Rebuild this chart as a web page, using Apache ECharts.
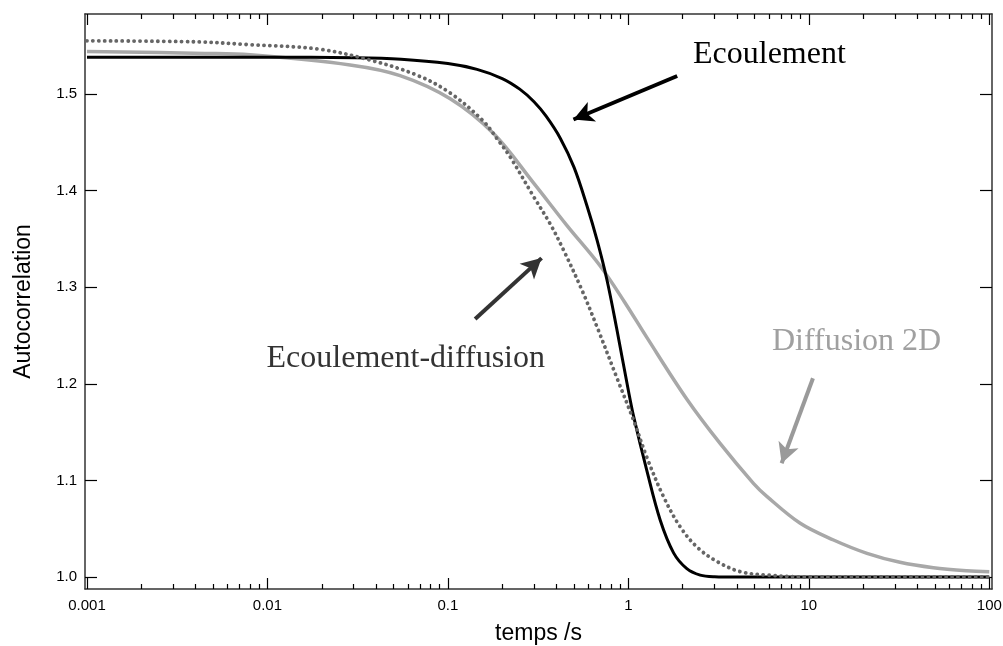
<!DOCTYPE html>
<html><head><meta charset="utf-8">
<script src="https://cdn.jsdelivr.net/npm/echarts@6/dist/echarts.min.js"></script>
<style>html,body{margin:0;padding:0;background:#fff}#chart{width:1003px;height:646px}</style>
</head><body><div id="chart"></div>
<script>
// ---- axis ticks ----
const xTickValues = [0.001, 0.01, 0.1, 1, 10, 100];
const xTickLabels = ['0.001', '0.01', '0.1', '1', '10', '100'];
const xMinorMultipliers = [2, 3, 4, 5, 6, 7, 8, 9];
const yTickValues = [1.0, 1.1, 1.2, 1.3, 1.4, 1.5];
const yTickLabels = ['1.0', '1.1', '1.2', '1.3', '1.4', '1.5'];

// ---- series: Ecoulement (black) ----
const ecoulementT = [0.001, 0.01, 0.03, 0.055, 0.1, 0.145, 0.2, 0.25, 0.3, 0.35, 0.42, 0.5, 0.59, 0.67, 0.76, 0.86, 1.0, 1.07, 1.27, 1.5, 1.78, 2.1, 2.5, 3.0, 4, 10, 100];
const ecoulementG = [1.538, 1.538, 1.5375, 1.536, 1.5315, 1.5255, 1.516, 1.505, 1.492, 1.477, 1.454, 1.424, 1.384, 1.349, 1.308, 1.258, 1.193, 1.166, 1.109, 1.059, 1.025, 1.009, 1.002, 1.0003, 1.0, 1.0, 1.0];

// ---- series: Ecoulement-diffusion (dotted) ----
const ecoDiffT = [0.001, 0.004, 0.008, 0.019, 0.0355, 0.067, 0.103, 0.157, 0.19, 0.221, 0.298, 0.37, 0.437, 0.55, 0.67, 0.86, 1.067, 1.265, 1.567, 1.936, 2.4, 3.1, 4.17, 5.85, 10, 100];
const ecoDiffG = [1.555, 1.554, 1.551, 1.5466, 1.536, 1.5197, 1.501, 1.472, 1.452, 1.435, 1.394, 1.365, 1.3385, 1.298, 1.259, 1.207, 1.1625, 1.124, 1.083, 1.052, 1.031, 1.016, 1.0055, 1.002, 1.0, 1.0];

// ---- series: Diffusion 2D (light gray) ----
const diff2DT = [0.001, 0.0045, 0.008, 0.0287, 0.0543, 0.103, 0.179, 0.298, 0.456, 0.698, 0.95, 1.265, 2.11, 3.23, 4.93, 5.85, 8.96, 13.7, 21, 32, 49, 75, 100];
const diff2DG = [1.544, 1.542, 1.5405, 1.530, 1.519, 1.495, 1.459, 1.408, 1.364, 1.322, 1.285, 1.248, 1.184, 1.138, 1.097, 1.0835, 1.0556, 1.0383, 1.0245, 1.0152, 1.0096, 1.0065, 1.0055];

// ---- annotation arrows (data coords: [time, G]) ----
const arrowEcoulement = [[1.864, 1.5186], [0.4963, 1.4736]];
const arrowEcoDiff = [[0.1415, 1.2671], [0.3303, 1.3301]];
const arrowDiff2D = [[10.54, 1.2057], [7.068, 1.1177]];

const xMinorValues = [];
xTickValues.slice(0, -1).forEach(d => xMinorMultipliers.forEach(m => xMinorValues.push(+(d * m).toPrecision(3))));

function pairs(ts, gs) { return ts.map((t, i) => [t, gs[i]]); }

const X_MIN = 0.000975, X_MAX = 103.5;
const Y_MIN = 0.98758, Y_MAX = 1.5828;
const SANS = '"Liberation Sans", Arial, sans-serif';
const SERIF = '"Liberation Serif", "Times New Roman", serif';
const AXIS_COLOR = '#333';

function xAxisDef(position, major, withLabels, withLine) {
  return {
    type: 'log', logBase: 10, min: X_MIN, max: X_MAX, position: position,
    splitLine: { show: false }, minorTick: { show: false },
    axisLine: { show: withLine, onZero: false, lineStyle: { color: AXIS_COLOR, width: 1.5 } },
    axisTick: { show: true, inside: true, length: major ? 11 : 5, customValues: major ? xTickValues : xMinorValues, lineStyle: { color: '#000', width: 1.2 } },
    axisLabel: withLabels ? {
      show: true, customValues: xTickValues, margin: 9, color: '#000', fontSize: 15, fontFamily: SANS,
      formatter: v => { const i = xTickValues.findIndex(t => Math.abs(Math.log10(t) - Math.log10(v)) < 1e-6); return i >= 0 ? xTickLabels[i] : ''; }
    } : { show: false },
    name: withLabels ? 'temps /s' : '', nameLocation: 'middle', nameGap: 33,
    nameTextStyle: { fontSize: 23, fontFamily: SANS, color: '#000' }
  };
}
function yAxisDef(position, withLabels) {
  return {
    type: 'value', min: Y_MIN, max: Y_MAX, position: position,
    splitLine: { show: false },
    axisLine: { show: true, onZero: false, lineStyle: { color: AXIS_COLOR, width: 1.5 } },
    axisTick: { show: true, inside: true, length: 12, customValues: yTickValues, lineStyle: { color: '#000', width: 1.2 } },
    axisLabel: withLabels ? {
      show: true, customValues: yTickValues, margin: 8, color: '#000', fontSize: 15, fontFamily: SANS,
      formatter: v => { const i = yTickValues.findIndex(t => Math.abs(t - v) < 1e-6); return i >= 0 ? yTickLabels[i] : ''; }
    } : { show: false },
    name: withLabels ? 'Autocorrelation' : '', nameLocation: 'middle', nameGap: 50,
    nameTextStyle: { fontSize: 23, fontFamily: SANS, color: '#000' }
  };
}
function arrowItem(a, color) {
  return [
    { coord: a[0], lineStyle: { color: color, width: 4, type: 'solid' } },
    { coord: a[1], lineStyle: { color: color, width: 4, type: 'solid' } }
  ];
}

const chart = echarts.init(document.getElementById('chart'), null, { renderer: 'canvas' });
chart.setOption({
  animation: false,
  backgroundColor: '#fff',
  grid: { left: 85, right: 11, top: 14, bottom: 57, containLabel: false, outerBoundsMode: 'none' },
  xAxis: [
    xAxisDef('bottom', true, true, true),
    xAxisDef('bottom', false, false, false),
    xAxisDef('top', true, false, true),
    xAxisDef('top', false, false, false)
  ],
  yAxis: [yAxisDef('left', true), yAxisDef('right', false)],
  series: [
    {
      name: 'Diffusion 2D', type: 'line', data: pairs(diff2DT, diff2DG), showSymbol: false, symbol: 'none',
      smooth: 0.35, lineStyle: { color: '#a8a8a8', width: 3.5 }, z: 2
    },
    {
      name: 'Ecoulement', type: 'line', data: pairs(ecoulementT, ecoulementG), showSymbol: false, symbol: 'none',
      smooth: 0.35, lineStyle: { color: '#000', width: 3 }, z: 3,
      markLine: {
        silent: true, animation: false, symbol: ['none', 'arrow'], symbolSize: [16, 20],
        label: { show: false },
        data: [arrowItem(arrowEcoulement, '#000'), arrowItem(arrowEcoDiff, '#333'), arrowItem(arrowDiff2D, '#9a9a9a')]
      }
    },
    {
      name: 'Ecoulement-diffusion', type: 'line', data: pairs(ecoDiffT, ecoDiffG), showSymbol: false, symbol: 'none',
      smooth: 0.35, lineStyle: { color: '#666', width: 3.8, type: [0.1, 5.8], cap: 'round' }, z: 4
    }
  ],
  graphic: [
    { type: 'text', x: 693, y: 55, style: { text: 'Ecoulement', font: '32px ' + SERIF, fill: '#000', align: 'left', verticalAlign: 'middle' } },
    { type: 'text', x: 545, y: 359, style: { text: 'Ecoulement-diffusion', font: '32px ' + SERIF, fill: '#333', align: 'right', verticalAlign: 'middle' } },
    { type: 'text', x: 772, y: 342, style: { text: 'Diffusion 2D', font: '32px ' + SERIF, fill: '#a0a0a0', align: 'left', verticalAlign: 'middle' } }
  ]
});
</script></body></html>
